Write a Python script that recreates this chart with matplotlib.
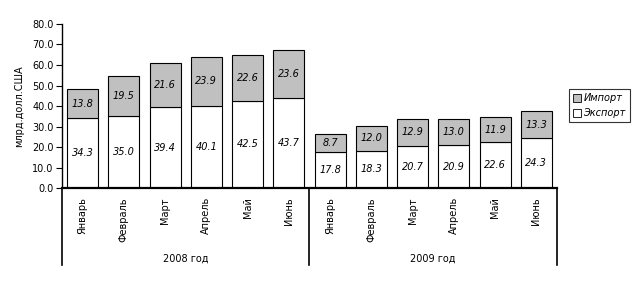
import matplotlib.pyplot as plt
import matplotlib.transforms as mtransforms
from matplotlib.patches import Patch

plt.rcParams["font.family"] = ["DejaVu Sans"]
plt.rcParams["font.size"] = 7

months = ["Январь", "Февраль", "Март", "Апрель", "Май", "Июнь"]
years = ["2008 год", "2009 год"]
export_vals = [34.3, 35.0, 39.4, 40.1, 42.5, 43.7, 17.8, 18.3, 20.7, 20.9, 22.6, 24.3]
import_vals = [13.8, 19.5, 21.6, 23.9, 22.6, 23.6, 8.7, 12.0, 12.9, 13.0, 11.9, 13.3]
labels = months + months

fig = plt.figure(figsize=(6.38, 2.82), dpi=100)
ax = fig.add_axes([0.097, 0.333, 0.776, 0.582])

x = list(range(len(export_vals)))
b1 = ax.bar(x, export_vals, width=0.75, color="white", edgecolor="black", linewidth=0.8)
b2 = ax.bar(x, import_vals, width=0.75, bottom=export_vals, color="#c0c0c0",
            edgecolor="black", linewidth=0.8)
ax.bar_label(b1, fmt="%.1f", label_type="center", fontstyle="italic", fontsize=7)
ax.bar_label(b2, fmt="%.1f", label_type="center", fontstyle="italic", fontsize=7)

ax.set_xlim(-0.5, len(x) - 0.5)
ax.set_ylim(0, 80)
ax.set_yticks(range(0, 81, 10))
ax.set_yticklabels([f"{v:.1f}" for v in range(0, 81, 10)])
ax.tick_params(axis="y", direction="out", length=4, width=0.8, pad=2)
ax.set_xticks([])
for s in ["top", "right"]:
    ax.spines[s].set_visible(False)
ax.spines["left"].set_linewidth(1.0)
ax.spines["bottom"].set_linewidth(1.6)

# подписи месяцев и лет под осью
trans = mtransforms.blended_transform_factory(ax.transData, ax.transAxes)
for i, lab in enumerate(labels):
    ax.text(i, -0.055, lab, rotation=90, ha="center", va="top", transform=trans)
for xb in [-0.5, 5.5, 11.5]:
    ax.plot([xb, xb], [0, -0.47], color="black", lw=1.2, transform=trans, clip_on=False)
for j, yl in enumerate(years):
    ax.text(2.5 + 6 * j, -0.427, yl, ha="center", va="center", transform=trans)

ax.set_ylabel("млрд.долл.США", labelpad=6)

handles = [Patch(facecolor="#c0c0c0", edgecolor="black", linewidth=0.6, label="Импорт"),
           Patch(facecolor="white", edgecolor="black", linewidth=0.6, label="Экспорт")]
leg = fig.legend(handles=handles, loc="upper left", bbox_to_anchor=(0.884, 0.70),
                 frameon=True, fancybox=False, edgecolor="black", handlelength=0.8,
                 handleheight=0.8, handletextpad=0.3, borderpad=0.4, labelspacing=0.5,
                 prop={"style": "italic", "size": 7})
leg.get_frame().set_linewidth(0.8)

fig.savefig("out.png", dpi=100)
